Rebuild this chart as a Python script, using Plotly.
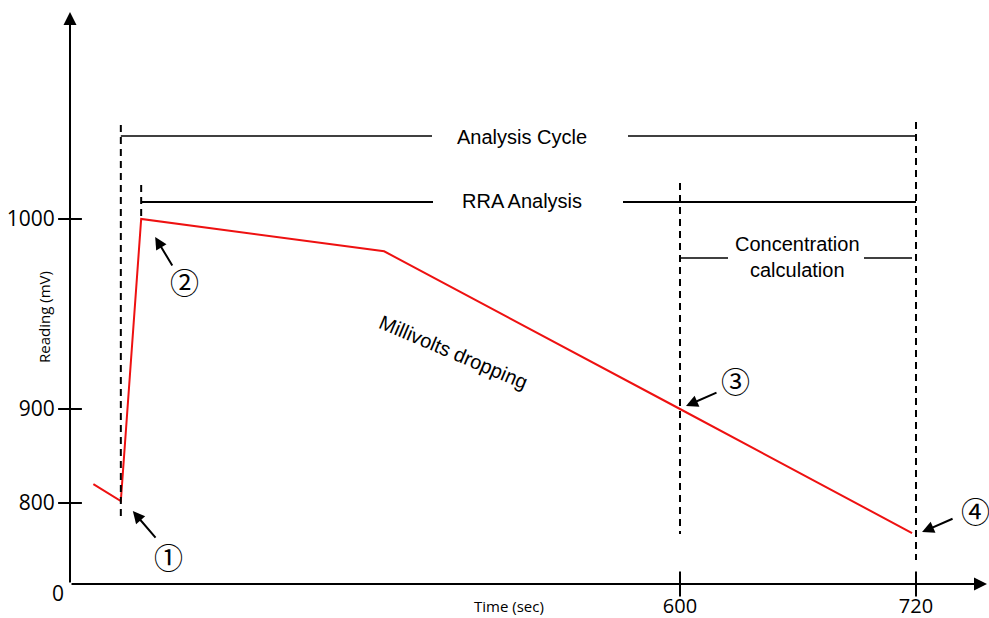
import numpy as np
import plotly.graph_objects as go

# ---- data ----
time_s = [23, 50, 70, 309, 600, 718]
reading_mv = [820, 802, 1000, 983, 900, 768]
x_tick_vals = [600, 720]
x_tick_labels = ["600", "720"]
y_tick_vals = [800, 900, 1000]
y_tick_labels = ["800", "900", "1000"]
marker_times = [50, 70, 600, 720]          # dashed event lines
callout_labels = ["①", "②", "③", "④"]
callout_index = [1, 2, 4, 5]                # which reading each callout points at

# ---- broken-axis scales of the schematic (value -> plotted unit) ----
X_BREAKS, X_POS = [0, 600, 720], [0, 610, 846]
Y_BREAKS, Y_POS = [800, 900, 1000], [81, 175, 365]


def piecewise(v, br, pos):
    v = np.asarray(v, dtype=float)
    out = np.interp(v, br, pos)
    lo = (pos[1] - pos[0]) / (br[1] - br[0])
    hi = (pos[-1] - pos[-2]) / (br[-1] - br[-2])
    out = np.where(v < br[0], pos[0] + (v - br[0]) * lo, out)
    out = np.where(v > br[-1], pos[-1] + (v - br[-1]) * hi, out)
    return out


def sx(v):
    return piecewise(v, X_BREAKS, X_POS)


def sy(v):
    return piecewise(v, Y_BREAKS, Y_POS)


W, H = 989, 618
ML, MR, MT, MB = 70, 0, 10, 34
XR, YR = W - ML - MR, H - MT - MB   # plot area size == axis ranges (1 unit = 1 px)


# layout helpers: page pixel -> plotted unit (plot origin at page (70, 584))
def dx(px):
    return px - ML


def dy(py):
    return (H - MB) - py


def pxp(px):   # page pixel -> paper fraction
    return (px - ML) / XR


def pyp(py):
    return ((H - MB) - py) / YR


fig = go.Figure()

# red reading line
fig.add_trace(go.Scatter(x=sx(time_s), y=sy(reading_mv), mode="lines",
                         line=dict(color="#ee1111", width=2), hoverinfo="skip"))

# tick marks crossing the axes
fig.add_trace(go.Scatter(x=[0] * len(y_tick_vals), y=sy(y_tick_vals), mode="markers",
                         marker=dict(symbol="line-ew", size=17,
                                     line=dict(color="black", width=2)),
                         cliponaxis=False, hoverinfo="skip"))
fig.add_trace(go.Scatter(x=sx(x_tick_vals), y=[0] * len(x_tick_vals), mode="markers",
                         marker=dict(symbol="line-ns", size=18,
                                     line=dict(color="black", width=2)),
                         cliponaxis=False, hoverinfo="skip"))

shapes = []
dash = "7px,5px"
# vertical dashed event lines (extents in page pixels)
v_extent = [(125, 517), (185, 219), (183, 534), (122, 560)]
for t, (top, bot) in zip(marker_times, v_extent):
    xv = float(sx(t))
    shapes.append(dict(type="line", xref="x", yref="y", x0=xv, x1=xv,
                       y0=dy(top), y1=dy(bot),
                       line=dict(color="black", width=2, dash=dash)))


# horizontal span lines with gaps for text
def span(y_px, x_start, gap_l, gap_r, x_end, w):
    for a, b in ((x_start, dx(gap_l)), (dx(gap_r), x_end)):
        shapes.append(dict(type="line", xref="x", yref="y", x0=a, x1=b,
                           y0=dy(y_px), y1=dy(y_px),
                           line=dict(color="black", width=w)))


span(136, float(sx(marker_times[0])), 432, 628, float(sx(marker_times[3])), 1.6)
span(202, float(sx(marker_times[1])), 433, 623, float(sx(marker_times[3])), 2)
span(258, float(sx(marker_times[2])), 728, 864, dx(912), 1.6)

annotations = []
# axis arrows
annotations.append(dict(x=dx(70), y=dy(12), ax=0, ay=0, axref="x", ayref="y",
                        xref="x", yref="y", text="", showarrow=True,
                        arrowhead=2, arrowsize=1.3, arrowwidth=2, arrowcolor="black"))
annotations.append(dict(x=dx(987), y=0, ax=0, ay=0, axref="x", ayref="y",
                        xref="x", yref="y", text="", showarrow=True,
                        arrowhead=2, arrowsize=1.3, arrowwidth=2, arrowcolor="black"))

txt_font = dict(family="Liberation Sans, Arial, sans-serif", size=20, color="black")
small_font = dict(family="Open Sans, sans-serif", size=15, color="black")
C = dict(xanchor="center", yanchor="middle")
annotations += [
    dict(x=dx(522), y=dy(137), text="Analysis Cycle", showarrow=False, font=txt_font, **C),
    dict(x=dx(522), y=dy(201), text="RRA Analysis", showarrow=False, font=txt_font, **C),
    dict(x=dx(797), y=dy(257), text="Concentration<br>calculation", showarrow=False,
         font=txt_font, **C),
    dict(x=dx(453), y=dy(352), text="Millivolts dropping", showarrow=False,
         textangle=23, font=txt_font, **C),
    dict(x=pxp(44), y=pyp(317), xref="paper", yref="paper", text="Reading (mV)",
         showarrow=False, textangle=-90, font=small_font, **C),
    dict(x=pxp(509), y=pyp(606), xref="paper", yref="paper", text="Time (sec)",
         showarrow=False, font=small_font, **C),
    dict(x=pxp(58), y=pyp(593), xref="paper", yref="paper", text="0", showarrow=False,
         font=dict(family="Open Sans, sans-serif", size=21, color="black"), **C),
]

# callout arrows: (xshift, yshift) of head from point, (ax, ay) tail offset in px
arrow_geom = [(12, -10, 24, 28), (14, -18, 18, 30), (6, 3, 32, -14), (10, 1, 32, -14)]
label_pos = [(168, 556), (184, 281), (735, 380), (975, 510)]
for lab, idx, (xs, ys, ax, ay), (lx, ly) in zip(callout_labels, callout_index,
                                                 arrow_geom, label_pos):
    annotations.append(dict(x=float(sx(time_s[idx])), y=float(sy(reading_mv[idx])),
                            xshift=xs, yshift=ys, ax=ax, ay=ay, text="",
                            showarrow=True, arrowhead=2, arrowsize=1.2,
                            arrowwidth=2, arrowcolor="black"))
    annotations.append(dict(x=pxp(lx), y=pyp(ly), xref="paper", yref="paper",
                            text=lab, showarrow=False,
                            font=dict(family="Noto Sans CJK JP, DejaVu Sans", size=29,
                                      color="black"), **C))

fig.update_layout(
    width=W, height=H,
    margin=dict(l=ML, r=MR, t=MT, b=MB, autoexpand=False),
    paper_bgcolor="white", plot_bgcolor="white",
    showlegend=False,
    shapes=shapes, annotations=annotations,
    xaxis=dict(range=[0, XR], showgrid=False, zeroline=False, showline=False,
               automargin=False,
               tickvals=sx(x_tick_vals), ticktext=x_tick_labels,
               ticks="outside", ticklen=4, tickcolor="rgba(0,0,0,0)",
               tickfont=dict(family="Open Sans, sans-serif", size=20, color="black")),
    yaxis=dict(range=[0, YR], showgrid=False, zeroline=False, showline=False,
               automargin=False,
               tickvals=sy(y_tick_vals), ticktext=y_tick_labels,
               ticks="outside", ticklen=10, tickcolor="rgba(0,0,0,0)",
               tickfont=dict(family="Open Sans, sans-serif", size=21, color="black")),
)

fig.write_html("out.html", config={"displayModeBar": False},
               post_script="document.body.style.margin='0';")
